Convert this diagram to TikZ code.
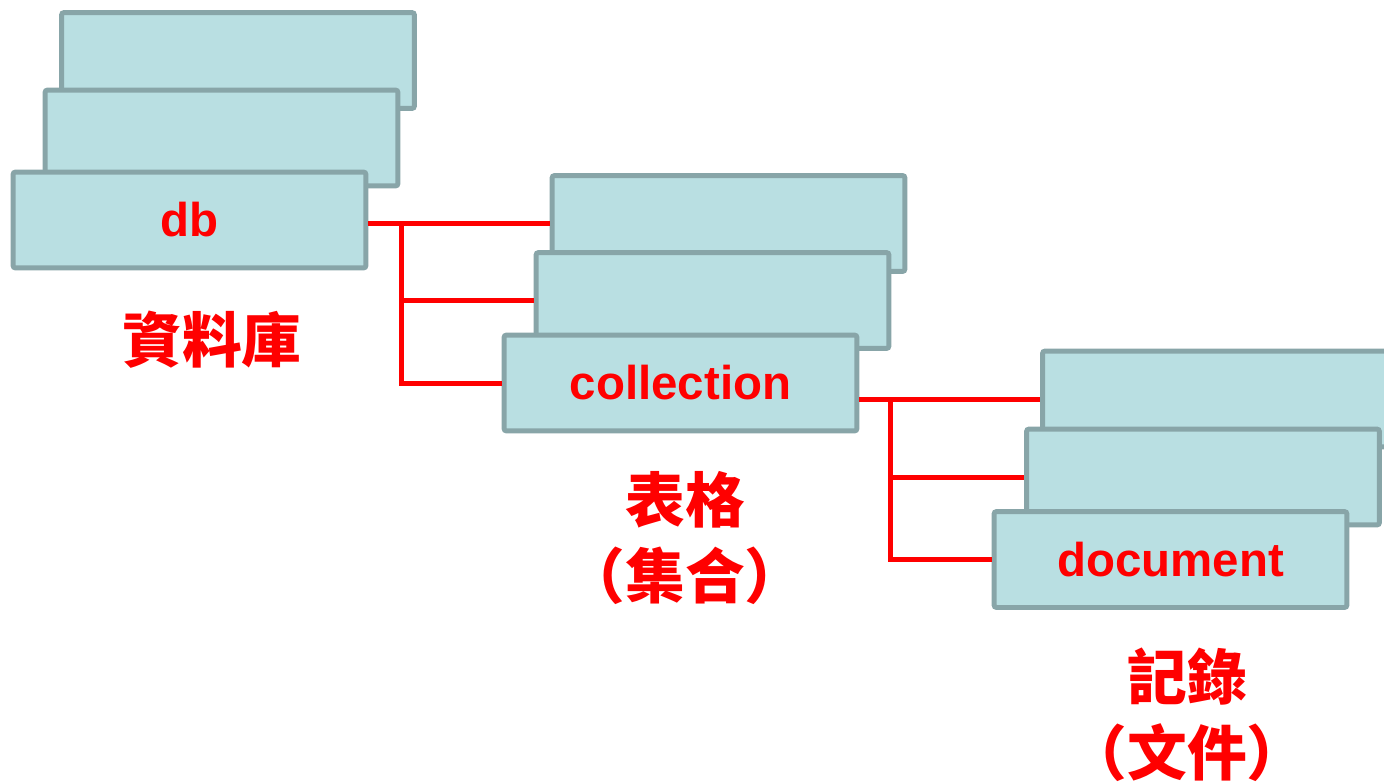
\documentclass[tikz,border=0pt]{standalone}
\usepackage{fontspec}
\setmainfont{Liberation Sans}
\newfontfamily\cjk{Noto Sans CJK TC}
\usetikzlibrary{calc}

\definecolor{sheetfill}{HTML}{B9DFE2}
\definecolor{sheetline}{HTML}{88A5A8}

\begin{document}
\begin{tikzpicture}[x=0.02cm, y=-0.02cm,
	sheet/.style={draw=sheetline, fill=sheetfill, line width=0.1cm, rounded corners=1.5pt,
		minimum width=7.06cm, minimum height=1.92cm, inner sep=0pt,
		text=red, font=\bfseries\fontsize{27}{32}\selectfont},
	link/.style={red, line width=0.1cm},
	caption/.style={text=red, align=center, font=\cjk\bfseries\fontsize{34}{43}\selectfont}]

		\useasboundingbox (0,0) rectangle (1384,782);

		% database stack
		\node[sheet] (db3) at (238,60.5) {};
		\node[sheet] (db2) at (221.5,138) {};
		\node[sheet] (db) at (189.5,220) {db};

		% collection stack
		\node[sheet] (col3) at (728.5,223.5) {};
		\node[sheet] (col2) at (712.5,300.5) {};
		\node[sheet] (col) at (680.5,383) {collection};

		% document stack
		\node[sheet] (doc3) at (1219,399) {};
		\node[sheet] (doc2) at (1203,477) {};
		\node[sheet] (doc) at (1170.5,559.5) {document};

		\coordinate (j1) at ($(col3.west -| db.east) + (33,0)$);
		\coordinate (j2) at ($(doc3.west -| col.east) + (31,0)$);

		\draw[link] (col3.west -| db.east) -- (col3.west);
		\draw[link] (j1) |- (col2.west);
		\draw[link] (j1) |- (col.west);

		\draw[link] (doc3.west -| col.east) -- (doc3.west);
		\draw[link] (j2) |- (doc2.west);
		\draw[link] (j2) |- (doc.west);

		\node[caption] (dbname) at (212,340) {資料庫};
		\node[caption] (colname) at (685,538) {表格\\（集合）};
		\node[caption] (docname) at (1187,715) {記錄\\（文件）};

	\end{tikzpicture}
\end{document}
